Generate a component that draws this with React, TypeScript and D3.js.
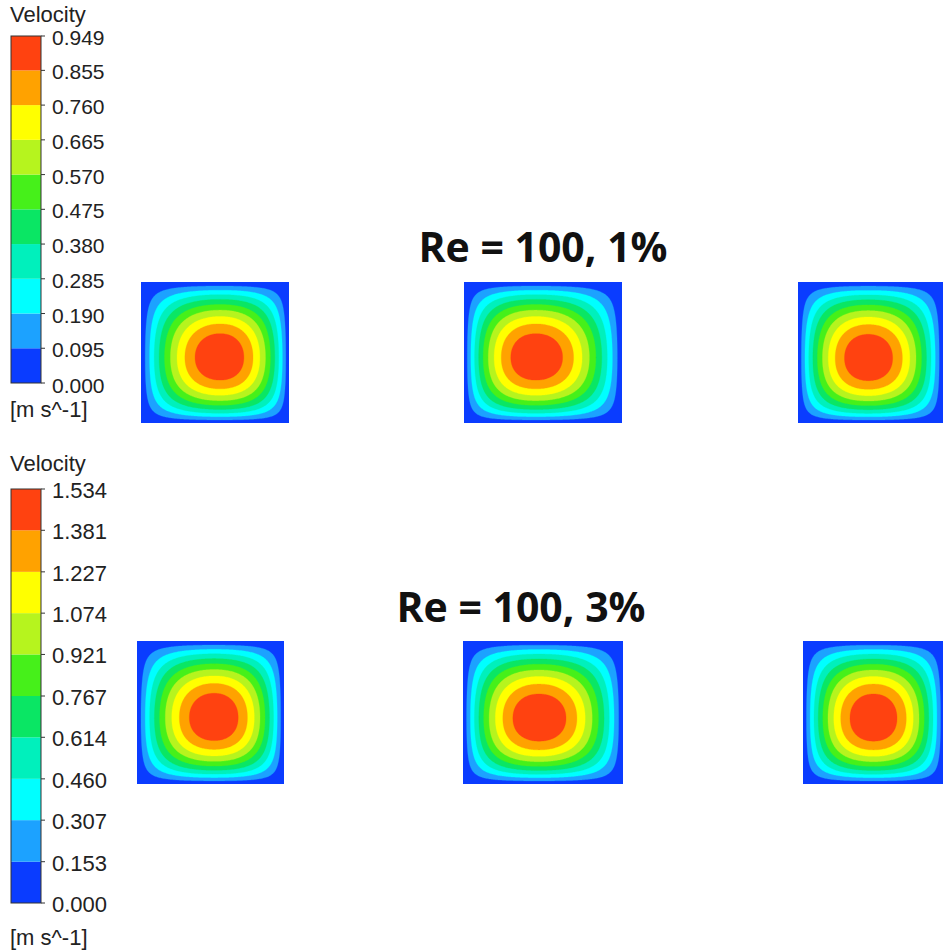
import React, { useMemo } from 'react';
import * as d3 from 'd3';

// ---- data ----
const topLevels = [0.0, 0.095, 0.19, 0.285, 0.38, 0.475, 0.57, 0.665, 0.76, 0.855, 0.949];
const bottomLevels = [0.0, 0.153, 0.307, 0.46, 0.614, 0.767, 0.921, 1.074, 1.227, 1.381, 1.534];
const bandColors = [
  '#0a3cff', '#1ca2ff', '#00ffff', '#00f0bc', '#0ae664',
  '#46f01a', '#b6f41e', '#ffff00', '#ffa200', '#ff4210',
];
const titles = ['Re = 100, 1%', 'Re = 100, 3%'];
const legendTitle = 'Velocity';
const legendUnit = '[m s^-1]';
// relative shift of the velocity peak inside each duct cross-section (row, panel)
const peakShiftX = [[0.068, -0.09, -0.03], [0.05, -0.05, 0.0]];
const peakShiftY = [[0.07, 0.07, 0.08], [0.07, 0.08, 0.08]];
const profileExponent = [2.1, 2.1];

// ---- layout ----
const W = 943;
const H = 951;
const rows = [
  {
    levels: topLevels,
    legend: { x: 11, top: 36, bottom: 383, titleY: 22, unitY: 417, font: 21, titleFont: 22, lastDy: 1 },
    title: { x: 543, y: 262 },
    panels: [
      { x: 141, y: 282, w: 148, h: 141 },
      { x: 464, y: 282, w: 158, h: 141 },
      { x: 798, y: 282, w: 145, h: 141 },
    ],
  },
  {
    levels: bottomLevels,
    legend: { x: 11, top: 489, bottom: 903, titleY: 471, unitY: 945, font: 22, titleFont: 22, lastDy: 0 },
    title: { x: 521, y: 622 },
    panels: [
      { x: 137, y: 641, w: 147, h: 143 },
      { x: 463, y: 641, w: 160, h: 143 },
      { x: 803, y: 641, w: 141, h: 143 },
    ],
  },
];

const N = 160;

function Panel({ p, levels, sx, sy, expo, id }: any) {
  const paths = useMemo(() => {
    const umax = levels[levels.length - 1];
    const values = new Array(N * N);
    for (let j = 0; j < N; j++) {
      const y = -1 + (2 * (j + 0.5)) / N;
      const yw = y - sy * (1 - y * y);
      for (let i = 0; i < N; i++) {
        const x = -1 + (2 * (i + 0.5)) / N;
        const xw = x - sx * (1 - x * x);
        values[j * N + i] =
          umax * (1 - Math.pow(Math.abs(xw), expo)) * (1 - Math.pow(Math.abs(yw), expo));
      }
    }
    const contours = d3.contours().size([N, N]).thresholds(levels.slice(1, levels.length - 1))(values);
    const proj = d3.geoTransform({
      point(x: number, y: number) {
        (this as any).stream.point(p.x + (x / N) * p.w, p.y + (y / N) * p.h);
      },
    });
    const path = d3.geoPath(proj);
    return contours.map((c, k) => ({ d: path(c as any) || '', color: bandColors[k + 1] }));
  }, [p, levels, sx, sy, expo]);
  return (
    <g clipPath={`url(#${id})`}>
      <clipPath id={id}>
        <rect x={p.x} y={p.y} width={p.w} height={p.h} />
      </clipPath>
      <rect x={p.x} y={p.y} width={p.w} height={p.h} fill={bandColors[0]} />
      {paths.map((c, k) => (
        <path key={k} d={c.d} fill={c.color} stroke={c.color} strokeWidth={0.3} />
      ))}
    </g>
  );
}

function Legend({ levels, L }: any) {
  const barW = 30;
  const y = d3.scaleLinear().domain([levels[0], levels[levels.length - 1]]).range([L.bottom, L.top]);
  const font = 'Liberation Sans, Arial, sans-serif';
  return (
    <g>
      <text x={L.x - 1} y={L.titleY} fontFamily={font} fontSize={L.titleFont} fill="#222">{legendTitle}</text>
      {bandColors.map((c, k) => (
        <rect key={k} x={L.x} y={y(levels[k + 1])} width={barW} height={y(levels[k]) - y(levels[k + 1])} fill={c} />
      ))}
      <rect x={L.x} y={L.top} width={barW} height={L.bottom - L.top} fill="none" stroke="#333" strokeWidth={1} />
      {levels.map((v: number, k: number) => (
        <g key={k}>
          <line x1={L.x + barW} x2={L.x + barW + 4} y1={y(v)} y2={y(v)} stroke="#333" strokeWidth={1} />
          <text
            x={L.x + barW + 11}
            y={y(v) + 9 + (k === 0 ? L.lastDy : 0)}
            fontFamily={font}
            fontSize={L.font}
            fill="#222"
          >
            {v.toFixed(3)}
          </text>
        </g>
      ))}
      <text x={L.x - 1} y={L.unitY} fontFamily={font} fontSize={L.titleFont} fill="#222">{legendUnit}</text>
    </g>
  );
}

export default function App() {
  return (
    <svg
      width={W}
      height={H}
      style={{ position: 'absolute', left: 0, top: 0, display: 'block', background: '#fff' }}
    >
      <rect x={0} y={0} width={W} height={H} fill="#fff" />
      {rows.map((r, ri) => (
        <g key={ri}>
          <Legend levels={r.levels} L={r.legend} />
          <text
            x={r.title.x}
            y={r.title.y}
            textAnchor="middle"
            fontFamily="Open Sans, sans-serif"
            fontWeight={700}
            fontSize={41}
            fill="#111"
          >
            {titles[ri]}
          </text>
          {r.panels.map((p, pi) => (
            <Panel
              key={pi}
              id={`clip-${ri}-${pi}`}
              p={p}
              levels={r.levels}
              sx={peakShiftX[ri][pi]}
              sy={peakShiftY[ri][pi]}
              expo={profileExponent[ri]}
            />
          ))}
        </g>
      ))}
    </svg>
  );
}
